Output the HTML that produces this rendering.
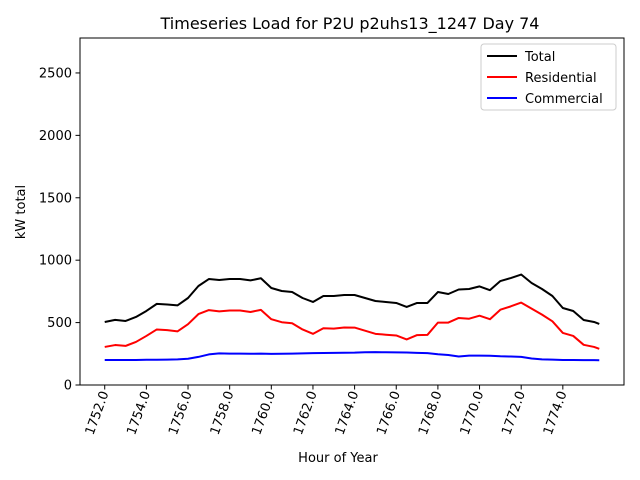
<!DOCTYPE html>
<html><head><meta charset="utf-8"><style>body{margin:0;background:#fff}svg{display:block;font-family:"DejaVu Sans","Liberation Sans",sans-serif}</style></head>
<body>
<svg id="c" width="640" height="480" xmlns="http://www.w3.org/2000/svg">
<text x="350" y="29" font-size="16" text-anchor="middle">Timeseries Load for P2U p2uhs13_1247  Day 74</text>
<text x="338" y="462" font-size="13" text-anchor="middle">Hour of Year</text>
<text transform="translate(25,212) rotate(-90)" font-size="13" text-anchor="middle">kW total</text>
<g id="ticks"></g>
<g id="lines"></g>
<rect x="80" y="38" width="544" height="347" fill="none" stroke="#000" stroke-width="1"/>
<g>
<rect x="481" y="44" width="135" height="66" rx="3" fill="#fff" stroke="#ccc"/>
<line x1="487" y1="56" x2="517" y2="56" stroke="#000" stroke-width="2"/>
<text x="525" y="61" font-size="13">Total</text>
<line x1="487" y1="77" x2="517" y2="77" stroke="#f00" stroke-width="2"/>
<text x="525" y="82" font-size="13">Residential</text>
<line x1="487" y1="98" x2="517" y2="98" stroke="#00f" stroke-width="2"/>
<text x="525" y="103" font-size="13">Commercial</text>
</g>
</svg>
<script>
const hours=[1752,1752.5,1753,1753.5,1754,1754.5,1755,1755.5,1756,1756.5,1757,1757.5,1758,1758.5,1759,1759.5,1760,1760.5,1761,1761.5,1762,1762.5,1763,1763.5,1764,1764.5,1765,1765.5,1766,1766.5,1767,1767.5,1768,1768.5,1769,1769.5,1770,1770.5,1771,1771.5,1772,1772.5,1773,1773.5,1774,1774.5,1775,1775.5,1775.75];
const total=[505,522,513,545,593,650,645,638,697,793,849,841,849,849,838,855,777,753,745,697,665,713,713,721,721,697,673,665,657,625,657,657,745,729,765,769,790,760,833,857,885,817,769,713,617,593,521,505,489];
const residential=[305,320,313,345,393,445,440,430,487,568,600,590,597,597,585,602,527,503,495,445,410,455,452,461,460,435,410,403,397,365,400,402,500,500,537,531,555,527,603,630,660,612,564,510,417,393,322,305,290];
const commercial=[200,200,200,200,202,202,203,205,210,225,245,253,251,251,250,251,249,250,251,253,255,256,257,258,259,262,263,262,261,260,257,255,246,240,228,235,235,234,230,228,225,212,205,203,200,200,199,199,198];
const xTicks=[1752,1754,1756,1758,1760,1762,1764,1766,1768,1770,1772,1774];
const yTicks=[0,500,1000,1500,2000,2500];
const x0=1750.8125,x1=1776.9375,y0=0,y1=2780;
const X=v=>80+(v-x0)/(x1-x0)*544;
const Y=v=>385-(v-y0)/(y1-y0)*347;
const NS="http://www.w3.org/2000/svg";
const tg=document.getElementById('ticks'),lg=document.getElementById('lines');
function mk(tag,attrs,parent){const e=document.createElementNS(NS,tag);for(const k in attrs)e.setAttribute(k,attrs[k]);parent.appendChild(e);return e;}
xTicks.forEach(t=>{const x=X(t);
const l=mk('line',{x1:x,x2:x,y1:385,y2:389.5,stroke:'#000'},tg);


const tx=mk('text',{transform:`translate(${x+4},393) rotate(-70)`,'font-size':'13','text-anchor':'end'},tg);


tx.textContent=t.toFixed(1);});
yTicks.forEach(t=>{const y=Y(t);
const l=mk('line',{x1:75.5,x2:80,y1:y,y2:y,stroke:'#000'},tg);


const tx=mk('text',{x:72,y:y+4.5,'font-size':'13','text-anchor':'end'},tg);


tx.textContent=t;});
[[total,'#000','total-line'],[residential,'#f00','residential-line'],[commercial,'#00f','commercial-line']].forEach(([d,c,n])=>{
const p=mk('polyline',{points:d.map((v,i)=>X(hours[i])+','+Y(v)).join(' '),fill:'none',stroke:c,'stroke-width':'2','stroke-linejoin':'round'},lg);

});
</script>
</body></html>
